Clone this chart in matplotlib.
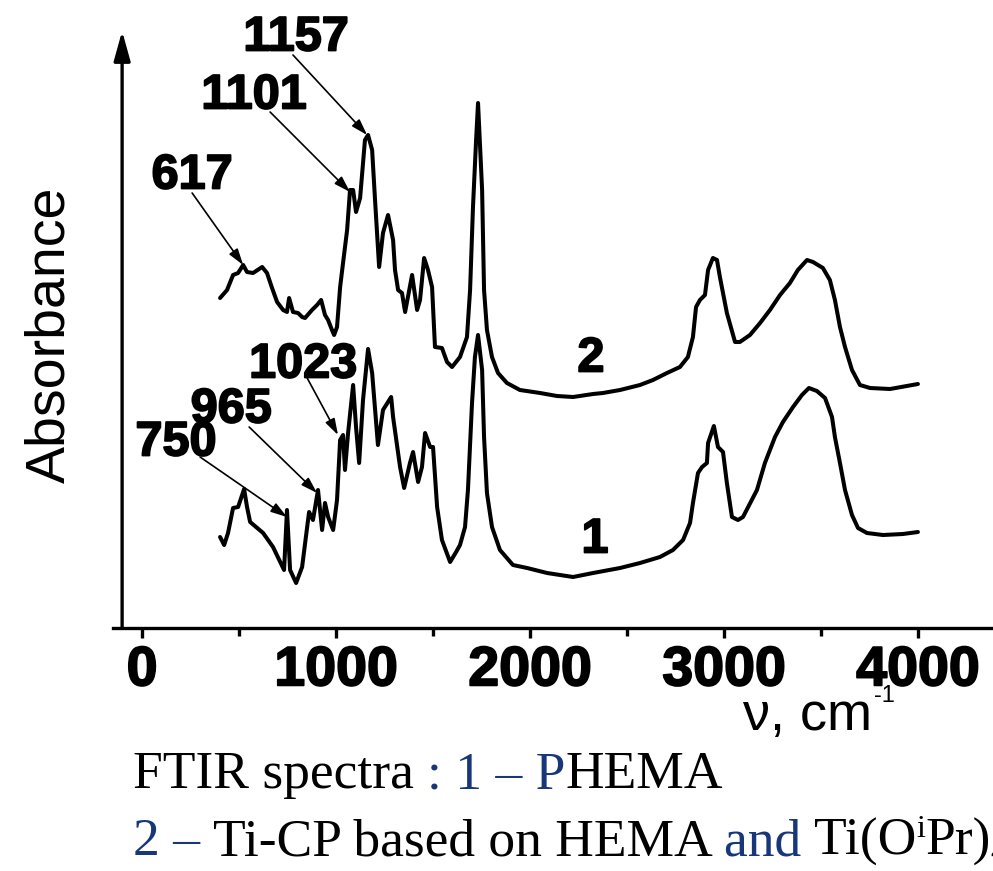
from __future__ import annotations

import matplotlib

matplotlib.use("Agg")
import matplotlib.patheffects as pe
import matplotlib.pyplot as plt
from matplotlib import font_manager
from matplotlib.font_manager import FontProperties
from matplotlib.ticker import MultipleLocator

W, H = 993, 871
BLUE = "#17377a"

# curve 1 - PHEMA
NU_1 = [402, 423, 443, 469, 495, 526, 541, 557, 624, 675, 727, 732, 747, 763, 794,
        825, 851, 861, 881, 907, 928, 943, 959, 985, 1005, 1021, 1036, 1046, 1062,
        1088, 1103, 1119, 1139, 1165, 1186, 1216, 1242, 1284, 1294, 1330, 1351, 1381,
        1397, 1423, 1443, 1459, 1485, 1500, 1521, 1546, 1588, 1619, 1639, 1665, 1680,
        1701, 1716, 1732, 1753, 1763, 1778, 1804, 1845, 1912, 1985, 2088, 2222, 2325,
        2464, 2567, 2670, 2737, 2789, 2825, 2840, 2866, 2887, 2912, 2918, 2948, 2969,
        2995, 3015, 3041, 3072, 3098, 3170, 3211, 3263, 3304, 3356, 3402, 3438, 3479,
        3521, 3557, 3572, 3598, 3624, 3660, 3691, 3737, 3820, 3923, 4000]
ABS_1 = [0.91, 0.83, 0.95, 1.20, 1.21, 1.39, 1.21, 1.06, 0.95, 0.81, 0.60, 0.58, 1.18,
         0.58, 0.45, 0.61, 1.01, 1.16, 1.08, 1.38, 0.98, 1.25, 1.11, 0.98, 1.28, 1.88,
         1.93, 1.58, 1.95, 2.43, 2.01, 1.65, 2.28, 2.79, 2.55, 1.83, 2.18, 2.31, 2.11,
         1.61, 1.40, 1.65, 1.76, 1.46, 1.61, 1.95, 1.81, 1.81, 1.21, 0.88, 0.66, 0.76,
         0.83, 1.01, 1.38, 2.25, 2.71, 2.93, 2.58, 1.91, 1.35, 1.01, 0.78, 0.63, 0.60,
         0.55, 0.51, 0.55, 0.60, 0.65, 0.71, 0.78, 0.88, 1.05, 1.25, 1.55, 1.61, 1.65,
         1.85, 2.02, 1.81, 1.76, 1.45, 1.11, 1.08, 1.11, 1.38, 1.65, 1.91, 2.06, 2.21,
         2.33, 2.40, 2.37, 2.30, 2.11, 1.91, 1.65, 1.38, 1.13, 1.00, 0.95, 0.93, 0.94,
         0.96]

# curve 2 - Ti-CP based on HEMA and Ti(OiPr)4
NU_2 = [402, 438, 469, 495, 521, 541, 572, 619, 644, 670, 696, 727, 747, 758, 778, 804,
        825, 840, 876, 902, 923, 943, 959, 979, 990, 1005, 1021, 1036, 1057, 1072, 1088,
        1103, 1124, 1149, 1165, 1186, 1201, 1222, 1242, 1268, 1294, 1304, 1320, 1340,
        1356, 1392, 1418, 1433, 1454, 1474, 1495, 1510, 1546, 1572, 1598, 1639, 1675,
        1691, 1706, 1722, 1732, 1753, 1763, 1778, 1804, 1835, 1881, 1948, 2052, 2139,
        2222, 2325, 2376, 2464, 2567, 2634, 2706, 2773, 2814, 2840, 2856, 2876, 2902,
        2918, 2943, 2964, 2979, 3015, 3057, 3082, 3134, 3186, 3237, 3289, 3340, 3381,
        3428, 3459, 3510, 3546, 3572, 3598, 3624, 3660, 3701, 3753, 3856, 4000]
ABS_2 = [3.30, 3.38, 3.53, 3.55, 3.63, 3.56, 3.55, 3.61, 3.55, 3.40, 3.26, 3.18, 3.16,
         3.30, 3.16, 3.15, 3.11, 3.10, 3.18, 3.23, 3.28, 3.13, 3.08, 2.98, 2.93, 3.01,
         3.41, 3.65, 3.98, 4.38, 4.38, 4.16, 4.30, 4.88, 4.93, 4.78, 4.28, 3.61, 3.95,
         4.13, 3.88, 3.58, 3.38, 3.35, 3.16, 3.53, 3.18, 3.28, 3.70, 3.58, 3.41, 2.81,
         2.80, 2.66, 2.61, 2.71, 2.91, 3.38, 4.21, 4.88, 5.25, 4.38, 3.38, 2.98, 2.71,
         2.55, 2.45, 2.38, 2.35, 2.32, 2.31, 2.34, 2.35, 2.38, 2.43, 2.48, 2.55, 2.61,
         2.71, 2.91, 3.21, 3.28, 3.33, 3.58, 3.70, 3.68, 3.51, 3.15, 2.86, 2.86, 2.93,
         3.05, 3.18, 3.33, 3.45, 3.58, 3.68, 3.66, 3.60, 3.48, 3.28, 3.01, 2.81, 2.58,
         2.43, 2.40, 2.39, 2.44]

PEAK_LABELS = ["1157", "1101", "617", "1023", "965", "750"]
PEAK_TEXT_NU = [794, 577, 258, 830, 459, 175]
PEAK_TEXT_ABS = [5.95, 5.37, 4.57, 2.68, 2.23, 1.90]
PEAK_TAIL_NU = [778, 660, 258, 851, 552, 299]
PEAK_TAIL_ABS = [5.73, 5.16, 4.35, 2.50, 2.01, 1.71]
PEAK_HEAD_NU = [1160, 1072, 521, 1010, 902, 747]
PEAK_HEAD_ABS = [4.93, 4.36, 3.63, 1.93, 1.35, 1.11]

CURVE_LABELS = ["1", "2"]
CURVE_LABEL_NU = [2335, 2314]
CURVE_LABEL_ABS = [0.93, 2.74]

X_TICKS = [0, 1000, 2000, 3000, 4000]

CAPTION_1 = [("FTIR spectra ", "black", None), (": 1 \u2013 P", BLUE, None), ("HEMA", "black", None)]
CAPTION_2 = [("2 \u2013 ", BLUE, None), ("Ti-CP based on HEMA ", "black", None),
             ("and ", BLUE, None), ("Ti(O", "black", None), ("i", "black", "sup"),
             ("Pr)", "black", None), ("4", "black", "sub")]

HEAVY = [pe.withStroke(linewidth=1.3, foreground="black")]


def _has_font(name: str) -> bool:
    return any(f.name == name for f in font_manager.fontManager.ttflist)


def _advance(renderer, text: str, prop: FontProperties) -> float:
    # width of text including trailing spaces, in pixels
    w_bar = renderer.get_text_width_height_descent("|", prop, ismath=False)[0]
    w_all = renderer.get_text_width_height_descent(text + "|", prop, ismath=False)[0]
    return w_all - w_bar


def draw_runs(fig, renderer, runs, x_px: float, base_px: float, size: float) -> None:
    x = x_px
    for text, color, shift in runs:
        fs = size * 0.6 if shift else size
        dy = 0.0
        if shift == "sup":
            dy = 0.33 * size * 100 / 72
        elif shift == "sub":
            dy = -0.12 * size * 100 / 72
        prop = FontProperties(family="Liberation Serif", size=fs)
        fig.text(x / W, 1 - (base_px - dy) / H, text, fontproperties=prop,
                 color=color, ha="left", va="baseline")
        x += _advance(renderer, text, prop)


def main() -> None:
    fig = plt.figure(figsize=(W / 100, H / 100), dpi=100)
    ax = fig.add_axes([113 / W, 1 - 628 / H, (W - 113) / W, 600 / H])
    ax.set_xlim(-150, 4387)
    ax.set_ylim(0, 6.0)

    for nu, ab in ((NU_1, ABS_1), (NU_2, ABS_2)):
        ax.plot(nu, ab, color="black", lw=2.9, solid_joinstyle="round",
                solid_capstyle="round")

    for spine in ("top", "right", "left"):
        ax.spines[spine].set_visible(False)
    ax.spines["bottom"].set_linewidth(2.4)
    ax.set_yticks([])

    # y axis drawn as an arrow
    ax.annotate("", xy=(-103, 5.97), xytext=(-103, 0.0),
                arrowprops=dict(arrowstyle="-|>,head_length=0.9,head_width=0.25",
                                lw=2.4, color="black", shrinkA=0, shrinkB=0,
                                mutation_scale=20),
                annotation_clip=False)

    tick_family = "Liberation Sans Narrow" if _has_font("Liberation Sans Narrow") else "Liberation Sans"
    ax.set_xticks(X_TICKS)
    ax.xaxis.set_minor_locator(MultipleLocator(500))
    ax.tick_params(axis="x", which="major", direction="out", length=7.5, width=2.4, pad=5)
    ax.tick_params(axis="x", which="minor", direction="out", length=5.5, width=2.4)
    for lab in ax.get_xticklabels():
        lab.set_fontfamily(tick_family)
        lab.set_fontweight("bold")
        lab.set_fontsize(46 if tick_family.endswith("Narrow") else 40)
        lab.set_path_effects(HEAVY)

    for label, tx, ty, ax0, ay0, hx, hy in zip(PEAK_LABELS, PEAK_TEXT_NU, PEAK_TEXT_ABS,
                                               PEAK_TAIL_NU, PEAK_TAIL_ABS,
                                               PEAK_HEAD_NU, PEAK_HEAD_ABS):
        ax.text(tx, ty, label, family="Liberation Sans", weight="bold", size=35,
                ha="center", va="center_baseline", clip_on=False, path_effects=HEAVY)
        ax.annotate("", xy=(hx, hy), xytext=(ax0, ay0),
                    arrowprops=dict(arrowstyle="-|>,head_length=0.7,head_width=0.22",
                                    lw=1.2, color="black", shrinkA=0, shrinkB=0,
                                    mutation_scale=14))

    for label, cx, cy in zip(CURVE_LABELS, CURVE_LABEL_NU, CURVE_LABEL_ABS):
        ax.text(cx, cy, label, family="Liberation Sans", weight="bold", size=35,
                ha="center", va="center_baseline", path_effects=HEAVY)

    fig.text(50 / W, 1 - 335 / H, "Absorbance", family="Liberation Sans", size=40,
             rotation=90, ha="center", va="center")
    fig.text(743 / W, 1 - 730 / H, "\u03bd, cm", family="Liberation Sans", size=39,
             ha="left", va="baseline")
    fig.text(874 / W, 1 - 702 / H, "-1", family="Liberation Sans", size=17,
             ha="left", va="baseline")

    renderer = fig.canvas.get_renderer()
    draw_runs(fig, renderer, CAPTION_1, 133, 788, 38.5)
    draw_runs(fig, renderer, CAPTION_2, 133, 855, 38.5)

    fig.savefig("out.png", dpi=100)
    plt.close(fig)


if __name__ == "__main__":
    main()
